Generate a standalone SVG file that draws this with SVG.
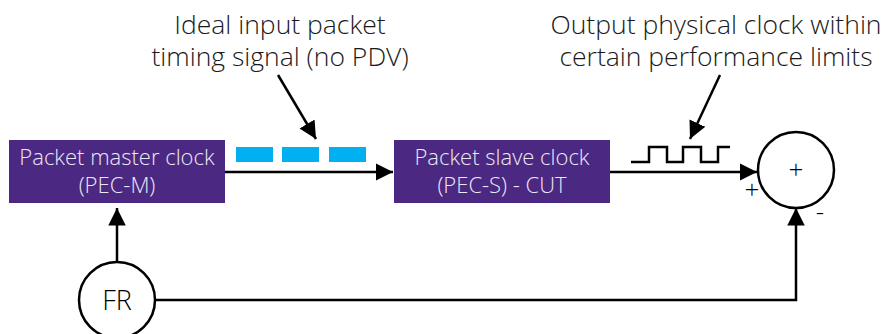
<svg xmlns="http://www.w3.org/2000/svg" width="896" height="334" viewBox="0 0 896 334">
  <style>
    .box { fill: #4B2882; }
    .boxtxt { font-family: "Open Sans", "Liberation Sans", sans-serif; font-weight: 300; font-size: 22px; fill: #ECE8F4; text-anchor: middle; }
    .lbl { font-family: "Open Sans", "Liberation Sans", sans-serif; font-weight: 300; font-size: 26.5px; fill: #1a1a1a; text-anchor: middle; }
    .sign { font-family: "Open Sans", "Liberation Sans", sans-serif; font-weight: 300; font-size: 26px; fill: #000; text-anchor: middle; }
    .wire { fill: none; stroke: #000; stroke-width: 2.5; }
    .ring { fill: #fff; stroke: #000; stroke-width: 2.5; }
    .pkt { fill: #00B0F0; }
  </style>
  <defs>
    <marker id="head" viewBox="0 0 10 10" refX="10" refY="5" markerWidth="7" markerHeight="8" markerUnits="strokeWidth" orient="auto">
      <path d="M0,0 L10,5 L0,10 Z" fill="#000"/>
    </marker>
  </defs>
  <rect width="896" height="334" fill="#fff"/>

  <!-- callout captions -->
  <g id="caption-input">
    <text class="lbl" x="280" y="34">Ideal input packet</text>
    <text class="lbl" x="280" y="66">timing signal (no PDV)</text>
  </g>
  <g id="caption-output">
    <text class="lbl" x="716" y="34">Output physical clock within</text>
    <text class="lbl" x="716" y="66">certain performance limits</text>
  </g>

  <!-- packet train and clock waveform -->
  <g id="packets">
    <rect class="pkt" x="236" y="147" width="37" height="15"/>
    <rect class="pkt" x="282" y="147" width="37" height="15"/>
    <rect class="pkt" x="329" y="147" width="37" height="15"/>
  </g>
  <g id="waveform">
    <path class="wire" d="M631,162 H649 V147 H667 V162 H683 V147 H701 V162 H718 V147 H730"/>
  </g>

  <g id="connectors">
    <path class="wire" d="M278,75 L316,139" marker-end="url(#head)"/>
    <path class="wire" d="M720,75 L690,139" marker-end="url(#head)"/>
    <path class="wire" d="M225,172 H393" marker-end="url(#head)"/>
    <path class="wire" d="M610,172 H757" marker-end="url(#head)"/>
    <path class="wire" d="M117,262 V208" marker-end="url(#head)"/>
    <path class="wire" d="M155,300 H796 V208" marker-end="url(#head)"/>
  </g>

  <g id="pec-m">
    <rect class="box" x="9" y="140" width="216" height="63"/>
    <text class="boxtxt" x="117" y="165">Packet master clock</text>
    <text class="boxtxt" x="117" y="193">(PEC-M)</text>
  </g>
  <g id="pec-s">
    <rect class="box" x="394" y="140" width="216" height="63"/>
    <text class="boxtxt" x="502" y="165">Packet slave clock</text>
    <text class="boxtxt" x="502" y="193">(PEC-S) - CUT</text>
  </g>
  <g id="sum">
    <circle class="ring" cx="796" cy="170" r="38"/>
    <text class="sign" x="796" y="179">+</text>
    <text class="sign" x="752" y="199">+</text>
    <text class="sign" x="820" y="221">-</text>
  </g>
  <g id="fr">
    <circle class="ring" cx="117" cy="300" r="38"/>
    <text class="sign" x="117" y="310" style="font-size:27px">FR</text>
  </g>
</svg>
